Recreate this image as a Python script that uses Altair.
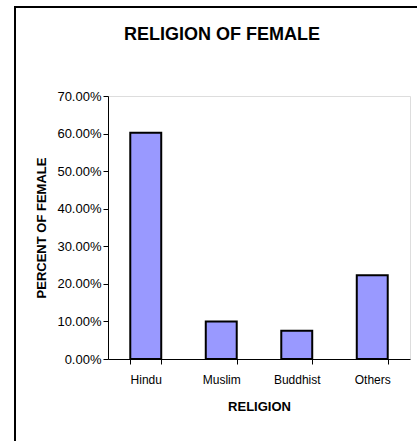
import altair as alt
import pandas as pd

religions = ["Hindu", "Muslim", "Buddhist", "Others"]
percent_female = [0.602, 0.100, 0.075, 0.223]
y_ticks = [0.0, 0.1, 0.2, 0.3, 0.4, 0.5, 0.6, 0.7]

df = pd.DataFrame({"religion": religions, "pct": percent_female})

W, H = 302, 263
FONT = "Liberation Sans"

frame = alt.Chart(alt.Data(values=[{}])).mark_rect(
    fillOpacity=0, stroke="black", strokeWidth=2
).encode(
    x=alt.value(-93), y=alt.value(-89), x2=alt.value(W + 40), y2=alt.value(H + 120)
)

bars = alt.Chart(df).mark_bar(
    color="#9999FF", stroke="black", strokeWidth=2
).encode(
    x=alt.X(
        "religion:N",
        sort=religions,
        scale=alt.Scale(paddingInner=0.59, paddingOuter=0.295),
        axis=alt.Axis(
            title="RELIGION",
            labelAngle=0,
            labelFontSize=12,
            labelFont=FONT,
            labelColor="black",
            labelPadding=10,
            titleFontSize=13,
            titleFont=FONT,
            titleFontWeight="bold",
            titleColor="black",
            titlePadding=15,
            tickBand="extent",
            tickSize=5,
            tickColor="black",
            domainColor="black",
        ),
    ),
    y=alt.Y(
        "pct:Q",
        scale=alt.Scale(domain=[0, 0.7], nice=False),
        axis=alt.Axis(
            title="PERCENT OF FEMALE",
            values=y_ticks,
            format=".2%",
            labelFontSize=13,
            labelFont=FONT,
            labelColor="black",
            labelPadding=2,
            titleFontSize=13,
            titleFont=FONT,
            titleFontWeight="bold",
            titleColor="black",
            titlePadding=8,
            tickSize=5,
            tickColor="black",
            domainColor="black",
            grid=False,
        ),
    ),
)

chart = alt.layer(frame, bars).properties(
    width=W,
    height=H,
    autosize=alt.AutoSizeParams(type="none"),
    padding={"left": 108, "top": 96, "right": 7, "bottom": 82},
    title=alt.TitleParams(
        "RELIGION OF FEMALE",
        font=FONT,
        fontSize=18,
        fontWeight="bold",
        color="black",
        anchor="middle",
        frame="group",
        baseline="alphabetic",
        dx=-37,
        offset=-52,
    ),
).configure_view(stroke=None).configure(background="white")

chart.save("out.html", embed_options={"renderer": "svg", "actions": False})
